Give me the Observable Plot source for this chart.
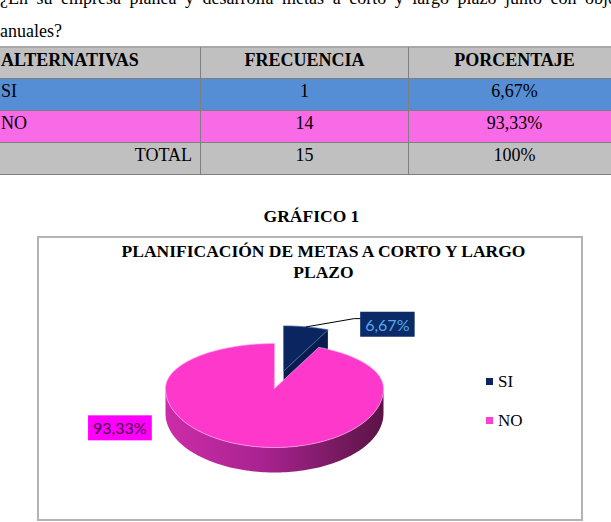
<!DOCTYPE html>
<html>
<head>
<meta charset="utf-8">
<script src="https://cdn.jsdelivr.net/npm/d3@7"></script>
<script src="https://cdn.jsdelivr.net/npm/@observablehq/plot@0.6"></script>
<style>
  html, body { margin:0; padding:0; background:#fff; }
  body { width:611px; height:522px; overflow:hidden; position:relative;
         font-family:"Liberation Serif","Times New Roman",serif; color:#000; }
  .abs { position:absolute; white-space:nowrap; }
  .q { font-size:18px; line-height:18px; }
  .cell { position:absolute; box-sizing:border-box; font-size:18px; line-height:18px;
          padding-top:3px; border-right:1px solid #7f7f7f; border-bottom:1px solid #7f7f7f; }
  .hdr { font-weight:bold; }
  #box { position:absolute; left:37px; top:236px; width:546px; height:285px;
         box-sizing:border-box; border:2px solid #b3b3b3; }
  #chart { position:absolute; left:39px; top:238px; }
  .title { font-weight:bold; font-size:17.5px; line-height:21px; text-align:center; }
  .leg { font-size:17px; line-height:17px; }
  .sw { position:absolute; width:7px; height:7px; }
</style>
</head>
<body>
<script>
// ---------------- data ----------------
const questionLines = ["¿En su empresa planea y desarrolla metas a corto y largo plazo junto con objetivos", "anuales?"];
const headers = ["ALTERNATIVAS", "FRECUENCIA", "PORCENTAJE"];
const categories = ["SI", "NO"];
const frequencies = [1, 14];
const percentLabels = ["6,67%", "93,33%"];
const totalRow = ["TOTAL", "15", "100%"];
const figureLabel = "GRÁFICO 1";
const chartTitleLines = ["PLANIFICACIÓN DE METAS A CORTO Y LARGO", "PLAZO"];

// ---------------- styles ----------------
const rowColors = { header: "#c0c0c0", SI: "#558ed5", NO: "#f96ae6", total: "#c0c0c0" };
const sliceTop = { SI: "#0a2560", NO: "#fd38cb" };
const sliceSide = { SI: "#081c4e", NO: "url(#sideGradNO)" };
const legendColors = { SI: "#0a2560", NO: "#ff3fd0" };
const labelBg = { SI: "#0b2a68", NO: "#ff00ff" };
const labelInk = { SI: "#58a8ec", NO: "#3e0f3c" };

const body = document.body;
function addDiv(cls, css, html) {
  const d = document.createElement("div");
  d.className = cls; d.style.cssText = css; d.innerHTML = html; body.appendChild(d); return d;
}

// question text
addDiv("abs q", "left:0;top:-10.6px;width:651px;white-space:normal;text-align:justify;text-align-last:justify;", questionLines[0]);
addDiv("abs q", "left:0;top:22px;", questionLines[1]);

// table
const colX = [-6, 201, 409], colW = [207, 208, 212];
const rowY0 = 47, rowH = 32;
const tableRows = [
  { cells: headers, bg: rowColors.header, hdr: true },
  { cells: [categories[0], String(frequencies[0]), percentLabels[0]], bg: rowColors.SI },
  { cells: [categories[1], String(frequencies[1]), percentLabels[1]], bg: rowColors.NO },
  { cells: totalRow, bg: rowColors.total, total: true }
];
tableRows.forEach((r, ri) => {
  r.cells.forEach((txt, ci) => {
    let align = ci === 0 ? (r.total ? "right" : "left") : "center";
    let pad = ci === 0 ? (r.total ? "padding-right:8px;" : "padding-left:7px;") : "";
    let top = rowY0 + ri * rowH;
    let extra = ri === 0 ? "border-top:2px solid #a8a8a8;" : "";
    addDiv("cell" + (r.hdr ? " hdr" : ""),
      `left:${colX[ci]}px;top:${top - (ri === 0 ? 1 : 0)}px;width:${colW[ci]}px;height:${rowH + (ri === 0 ? 1 : 0)}px;background:${r.bg};text-align:${align};${pad}${extra}${ri===0?"padding-top:3px;":""}`,
      txt);
  });
});

// figure label
addDiv("abs", "left:0;top:207px;width:623px;text-align:center;font-weight:bold;font-size:17.5px;line-height:18px;", figureLabel);

// chart box
addDiv("", "", "").id = "box";
document.querySelector("#box").className = "";

// ---------------- pie geometry ----------------
const KB = 45 / 59;      // back-half foreshortening
const DEPTH = 25 / 59;   // thickness of the pie
const EXPLODE = { SI: 0.4, NO: 0 };
const arcs = d3.pie().sort(null).value(d => d)(frequencies)
  .map((a, i) => ({ ...a, cat: categories[i], label: percentLabels[i] }));

function P(x, v, down) { return { x, y: (v > 0 ? v * KB : v) - down * DEPTH }; }
function arcPts(a0, a1, ex, ev, down) {
  const n = Math.max(2, Math.ceil((a1 - a0) / (Math.PI / 120)));
  const out = [];
  for (let k = 0; k <= n; k++) {
    const a = a0 + (a1 - a0) * k / n;
    out.push(P(ex + Math.sin(a), ev + Math.cos(a), down));
  }
  return out;
}

const faceMarks = [];
const order = arcs.slice().sort((a, b) => Math.cos((b.startAngle + b.endAngle) / 2) - Math.cos((a.startAngle + a.endAngle) / 2));
const anchors = {};
for (const s of order) {
  const a0 = s.startAngle, a1 = s.endAngle, mid = (a0 + a1) / 2;
  const e = EXPLODE[s.cat];
  const ex = e * Math.sin(mid), ev = e * Math.cos(mid);
  const c0 = P(ex, ev, 0), c1 = P(ex, ev, 1);
  // radial faces
  if (Math.sin(a0) < -1e-6) {
    const t = P(ex + Math.sin(a0), ev + Math.cos(a0), 0), b = P(ex + Math.sin(a0), ev + Math.cos(a0), 1);
    faceMarks.push(Plot.line([c0, t, b, c1], { x: "x", y: "y", fill: sliceSide[s.cat], stroke: "none", curve: "linear-closed" }));
  }
  if (Math.sin(a1) > 1e-6) {
    const t = P(ex + Math.sin(a1), ev + Math.cos(a1), 0), b = P(ex + Math.sin(a1), ev + Math.cos(a1), 1);
    faceMarks.push(Plot.line([c0, t, b, c1], { x: "x", y: "y", fill: sliceSide[s.cat], stroke: "none", curve: "linear-closed" }));
  }
  // outer wall (front half)
  const lo = Math.max(a0, Math.PI / 2), hi = Math.min(a1, 3 * Math.PI / 2);
  if (lo < hi) {
    const wall = arcPts(lo, hi, ex, ev, 0).concat(arcPts(lo, hi, ex, ev, 1).reverse());
    faceMarks.push(Plot.line(wall, { x: "x", y: "y", fill: sliceSide[s.cat], stroke: "none", curve: "linear-closed" }));
  }
  // top face
  const top = [c0].concat(arcPts(a0, a1, ex, ev, 0));
  faceMarks.push(Plot.line(top, { x: "x", y: "y", fill: sliceTop[s.cat],
    stroke: s.cat === "SI" ? "#4866a6" : "#ffa6ea", strokeWidth: 0.7, curve: "linear-closed" }));
  anchors[s.cat] = P(ex + Math.sin(mid), ev + Math.cos(mid), 0);
}

// leader line for the small slice
const pSI = anchors.SI;
const leader = [pSI, { x: pSI.x + 0.44, y: pSI.y + 0.14 }, { x: pSI.x + 0.495, y: pSI.y + 0.14 }];

const svg = Plot.plot({
  width: 542, height: 281, margin: 0,
  style: { background: "transparent", overflow: "visible" },
  x: { domain: [-1, 1], range: [126, 344], axis: null },
  y: { domain: [-1, 1], range: [209, 91], axis: null },
  marks: [
    ...faceMarks,
    Plot.line(leader, { x: "x", y: "y", stroke: "#000", strokeWidth: 1 }),
    Plot.text([{ ...leader[2], label: percentLabels[0], cat: "SI" }], {
      x: "x", y: "y", text: "label", textAnchor: "start", lineAnchor: "middle",
      dx: 5, dy: 7, fill: labelInk.SI, fontFamily: "Lato", fontSize: 16 }),
    Plot.text([{ ...anchors.NO, label: percentLabels[1], cat: "NO" }], {
      x: "x", y: "y", text: "label", textAnchor: "middle", lineAnchor: "middle",
      dx: -132, dy: -17, fill: labelInk.NO, fontFamily: "Lato", fontSize: 16 })
  ]
});
svg.id = "chart";
body.appendChild(svg);

// gradient for the pink wall
const defs = d3.select(svg).insert("defs", ":first-child");
const g = defs.append("linearGradient").attr("id", "sideGradNO").attr("x1", 0).attr("x2", 1).attr("y1", 0).attr("y2", 0);
g.append("stop").attr("offset", "0%").attr("stop-color", "#cc2ca8");
g.append("stop").attr("offset", "45%").attr("stop-color", "#a82390");
g.append("stop").attr("offset", "100%").attr("stop-color", "#5a1444");

// label backgrounds from the text bounding boxes
const labelCats = ["SI", "NO"];
d3.select(svg).selectAll('g[aria-label="text"] text').each(function (d, i) {
  const bb = this.getBBox();
  const r = document.createElementNS("http://www.w3.org/2000/svg", "rect");
  r.setAttribute("x", bb.x - 5); r.setAttribute("y", bb.y - 3);
  r.setAttribute("width", bb.width + 10); r.setAttribute("height", bb.height + 6);
  r.setAttribute("fill", labelBg[labelCats[i]]);
  if (this.getAttribute("transform")) r.setAttribute("transform", this.getAttribute("transform"));
  this.parentNode.insertBefore(r, this);
});

// chart title
addDiv("abs title", "left:0;top:240.6px;width:647px;", chartTitleLines.join("<br>"));

// legend
const legTops = [378, 417];
categories.forEach((c, i) => {
  addDiv("sw", `left:486px;top:${legTops[i]}px;background:${legendColors[c]};`, "");
  addDiv("abs leg", `left:498px;top:${legTops[i] - 5.2}px;`, c);
});
</script>
</body>
</html>
